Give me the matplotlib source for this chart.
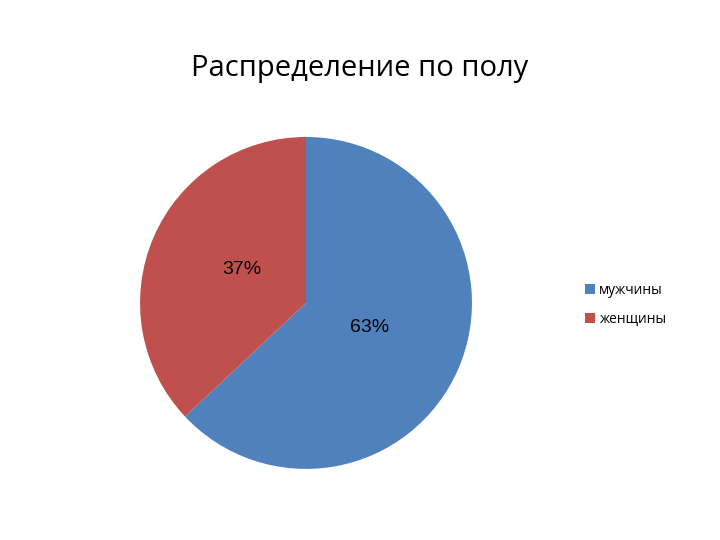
import matplotlib.pyplot as plt
from matplotlib.patches import Patch

labels = ['мужчины', 'женщины']
values = [63, 37]
colors = ['#4f81bd', '#c0504d']

fig = plt.figure(figsize=(7.2, 5.4), dpi=100)
fig.text(0.5, 0.874, 'Распределение по полу', ha='center', va='center',
         fontsize=21, family='Open Sans')

ax = fig.add_axes([0.425 - 0.2305, 0.439 - 0.3075, 0.461, 0.615])
ax.pie(values, colors=colors, startangle=90, counterclock=False, radius=1)
ax.set_xlim(-1, 1)
ax.set_ylim(-1, 1)
ax.set_aspect('equal')
ax.axis('off')

# подписи процентов
ax.text(0.385, -0.15, '%d%%' % values[0], ha='center', va='center',
        fontsize=14, family='Liberation Sans')
ax.text(-0.385, 0.2, '%d%%' % values[1], ha='center', va='center',
        fontsize=14, family='Liberation Sans')

handles = [Patch(facecolor=c) for c in colors]
fig.legend(handles, labels, loc='center left', bbox_to_anchor=(0.795, 0.435),
           frameon=False, fontsize=10, handlelength=0.7, handleheight=0.7,
           handletextpad=0.3, labelspacing=1.0, prop={'family': 'Open Sans', 'size': 10})

fig.savefig('out.png', dpi=100)
